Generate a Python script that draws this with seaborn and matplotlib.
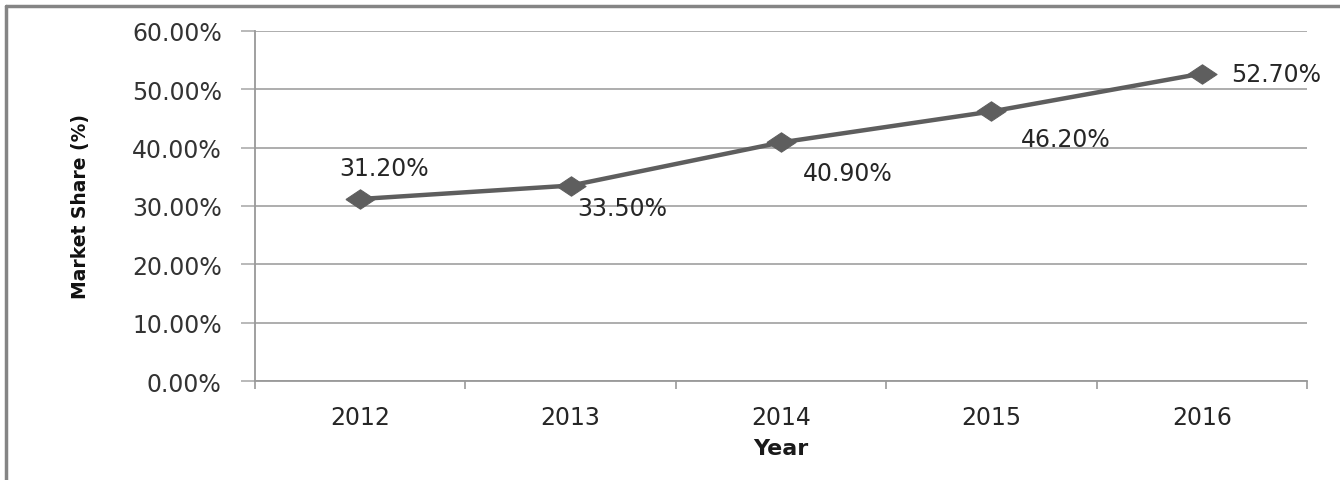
import matplotlib
matplotlib.use("Agg")
import matplotlib.pyplot as plt
from matplotlib.lines import Line2D
import seaborn as sns
import pandas as pd

years = ["2012", "2013", "2014", "2015", "2016"]
share = [31.2, 33.5, 40.9, 46.2, 52.7]
share_labels = ["31.20%", "33.50%", "40.90%", "46.20%", "52.70%"]
y_ticks = [0, 10, 20, 30, 40, 50, 60]
y_tick_labels = ["0.00%", "10.00%", "20.00%", "30.00%", "40.00%", "50.00%", "60.00%"]

# label offsets (left edge of text) from each point, in points
label_offsets = [(-15, 22), (5, -16), (16, -22), (21, -20), (21, 0)]

sns.set_theme(style="white")
plt.rcParams["font.family"] = ["DejaVu Sans"]

df = pd.DataFrame({"Year": years, "Share": share})

fig = plt.figure(figsize=(13.4, 4.81), dpi=100)
ax = fig.add_axes([0.1903, 0.2058, 0.7851, 0.7277])

line_col = "#5e5e5e"
diamond = [(-1.5, 0), (0, 1), (1.5, 0), (0, -1), (-1.5, 0)]
sns.lineplot(data=df, x="Year", y="Share", ax=ax, color=line_col, linewidth=3.2,
             marker=diamond, markersize=21, markeredgecolor=line_col,
             markerfacecolor=line_col, sort=False)

ax.set_xlim(-0.5, len(years) - 0.5)
ax.set_ylim(0, 60)
ax.set_yticks(y_ticks)
ax.set_yticklabels(y_tick_labels)
ax.yaxis.grid(True, color="#adadad", linewidth=1.4)
ax.xaxis.grid(False)

# tick marks at category boundaries, year labels at centres
ax.set_xticks([i - 0.5 for i in range(len(years) + 1)])
ax.set_xticklabels([])
ax.set_xticks(range(len(years)), minor=True)
ax.set_xticklabels(years, minor=True)
ax.tick_params(axis="x", which="major", direction="out", length=6, width=1.2,
               color="#999999", bottom=True)
ax.tick_params(axis="x", which="minor", length=0, pad=17, labelsize=17,
               labelcolor="#262626")
ax.tick_params(axis="y", direction="out", length=10, width=1.2, color="#adadad",
               left=True, pad=14, labelsize=17, labelcolor="#333333")

for side in ["top", "right"]:
    ax.spines[side].set_visible(False)
for side in ["left", "bottom"]:
    ax.spines[side].set_color("#999999")
    ax.spines[side].set_linewidth(1.3)

ax.set_xlabel("Year", fontsize=16, fontweight="bold", color="#1a1a1a", labelpad=7)
ax.set_ylabel("Market Share (%)", fontsize=13.5, fontweight="bold", color="#111111",
              labelpad=30)

for i, (v, lab) in enumerate(zip(share, share_labels)):
    dx, dy = label_offsets[i]
    ax.annotate(lab, (i, v), xytext=(dx, dy), textcoords="offset points",
                ha="left", va="center", fontsize=17, color="#262626")

# chart frame: left and top edges
fig.add_artist(Line2D([0.0042, 0.0042], [-0.1, 0.9855], transform=fig.transFigure,
                      color="#858585", linewidth=2.5))
fig.add_artist(Line2D([0.0042, 1.1], [0.9855, 0.9855], transform=fig.transFigure,
                      color="#858585", linewidth=2.5))

fig.savefig("out.png", dpi=100)
